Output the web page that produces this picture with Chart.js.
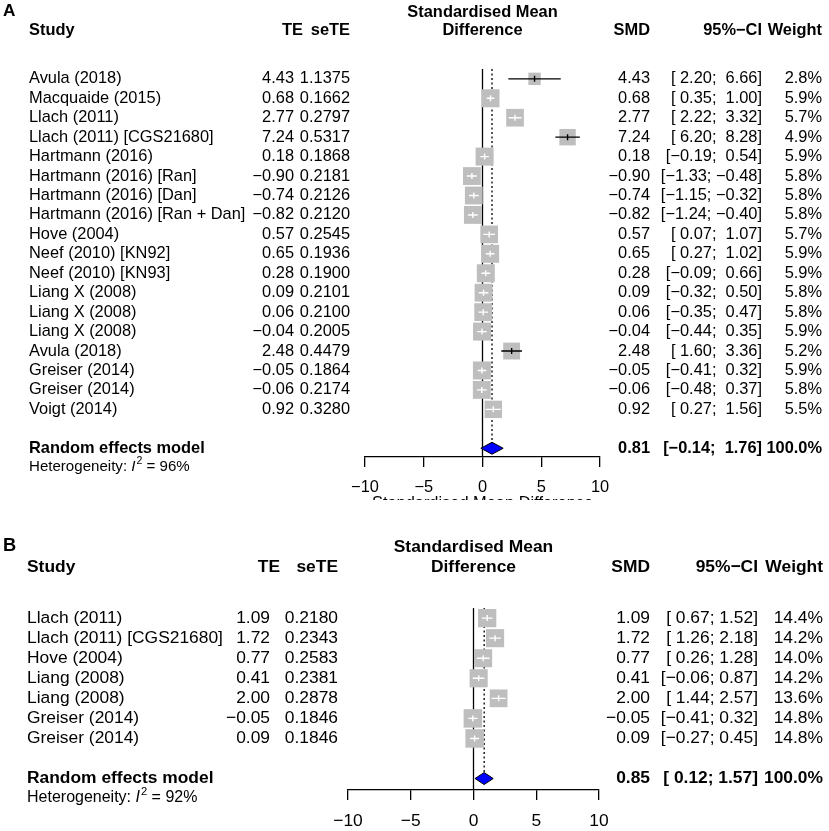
<!DOCTYPE html>
<html>
<head>
<meta charset="utf-8">
<script src="https://cdn.jsdelivr.net/npm/chart.js@4"></script>
<style>
  body { margin: 0; background: #fff; width: 829px; height: 831px; overflow: hidden; position: relative; }
  canvas { position: absolute; left: 0; background: #fff; }
  #panelA { top: 0; }
  #panelB { top: 500px; }
</style>
</head>
<body>
<canvas id="panelA" width="829" height="500"></canvas>
<canvas id="panelB" width="829" height="331"></canvas>
<script>
const MINUS = "\u2212";
const xTicks = [-10, -5, 0, 5, 10];

// panel A
const studiesA = ["Avula (2018)", "Macquaide (2015)", "Llach (2011)", "Llach (2011) [CGS21680]",
    "Hartmann (2016)", "Hartmann (2016) [Ran]", "Hartmann (2016) [Dan]", "Hartmann (2016) [Ran + Dan]",
    "Hove (2004)", "Neef (2010) [KN92]", "Neef (2010) [KN93]", "Liang X (2008)", "Liang X (2008)",
    "Liang X (2008)", "Avula (2018)", "Greiser (2014)", "Greiser (2014)", "Voigt (2014)"];
const teA = [4.43, 0.68, 2.77, 7.24, 0.18, -0.90, -0.74, -0.82, 0.57, 0.65, 0.28, 0.09, 0.06, -0.04, 2.48, -0.05, -0.06, 0.92];
const seteA = [1.1375, 0.1662, 0.2797, 0.5317, 0.1868, 0.2181, 0.2126, 0.2120, 0.2545, 0.1936, 0.1900, 0.2101, 0.2100, 0.2005, 0.4479, 0.1864, 0.2174, 0.3280];
const lowerA = [2.20, 0.35, 2.22, 6.20, -0.19, -1.33, -1.15, -1.24, 0.07, 0.27, -0.09, -0.32, -0.35, -0.44, 1.60, -0.41, -0.48, 0.27];
const upperA = [6.66, 1.00, 3.32, 8.28, 0.54, -0.48, -0.32, -0.40, 1.07, 1.02, 0.66, 0.50, 0.47, 0.35, 3.36, 0.32, 0.37, 1.56];
const weightA = [2.8, 5.9, 5.7, 4.9, 5.9, 5.8, 5.8, 5.8, 5.7, 5.9, 5.9, 5.8, 5.8, 5.9, 5.2, 5.9, 5.8, 5.5];
const summaryA = [0.81, -0.14, 1.76];   // estimate, lower, upper
const i2A = 96;

// panel B
const studiesB = ["Llach (2011)", "Llach (2011) [CGS21680]", "Hove (2004)", "Liang (2008)", "Liang (2008)",
    "Greiser (2014)", "Greiser (2014)"];
const teB = [1.09, 1.72, 0.77, 0.41, 2.00, -0.05, 0.09];
const seteB = [0.2180, 0.2343, 0.2583, 0.2381, 0.2878, 0.1846, 0.1846];
const lowerB = [0.67, 1.26, 0.26, -0.06, 1.44, -0.41, -0.27];
const upperB = [1.52, 2.18, 1.28, 0.87, 2.57, 0.32, 0.45];
const weightB = [14.4, 14.2, 14.0, 14.2, 13.6, 14.8, 14.8];
const summaryB = [0.85, 0.12, 1.57];
const i2B = 92;

const fmt = (v, d) => v.toFixed(d).replace("-", MINUS);

// R pads lower / upper bounds to a common width
function ciLabels(lo, up) {
    const ls = lo.map(v => v.toFixed(2));
    const us = up.map(v => v.toFixed(2));
    const lw = Math.max(...ls.map(s => s.length));
    const uw = Math.max(...us.map(s => s.length));
    return ls.map((s, i) => ("[" + s.padStart(lw) + "; " + us[i].padStart(uw) + "]").replace(/-/g, MINUS));
}

function makeForest(id, d, L) {
    const n = d.studies.length;
    const sumRow = n + 1;
    const yMin = -L.row0 / L.rowH;
    const yMax = yMin + L.axisY / L.rowH;
    const maxW = Math.max(...d.weight);
    const sides = d.weight.map(w => L.box * Math.sqrt(w / maxW));
    const font = (style, size) => `${style}${size || L.font}px "Liberation Sans", Arial, sans-serif`;
    const ci = ciLabels(d.lower.concat([d.summary[1]]), d.upper.concat([d.summary[2]]));

    const forestPlugin = {
        id: "forest_" + id,
        beforeDatasetsDraw(chart) {
            const { ctx, chartArea, scales: { x, y } } = chart;
            const top = y.getPixelForValue(-0.5);
            const x0 = x.getPixelForValue(0);
            const xs = x.getPixelForValue(d.summary[0]);
            ctx.save();
            ctx.strokeStyle = "#000";
            ctx.lineWidth = 1.3;
            ctx.beginPath();
            ctx.moveTo(x0, top);
            ctx.lineTo(x0, chartArea.bottom);
            ctx.stroke();
            // dotted line at the pooled estimate
            ctx.setLineDash([2, 2.5]);
            ctx.beginPath();
            ctx.moveTo(xs, top);
            ctx.lineTo(xs, y.getPixelForValue(sumRow) - L.diam);
            ctx.stroke();
            ctx.restore();
        },
        afterDatasetsDraw(chart) {
            const { ctx, scales: { x, y } } = chart;
            ctx.save();
            ctx.lineWidth = 1.4;
            for (let i = 0; i < n; i++) {
                const yp = y.getPixelForValue(i);
                const xl = x.getPixelForValue(d.lower[i]);
                const xu = x.getPixelForValue(d.upper[i]);
                const xe = x.getPixelForValue(d.te[i]);
                const inside = (xu - xl) < sides[i];
                ctx.strokeStyle = inside ? "#fff" : "#000";
                ctx.beginPath();
                ctx.moveTo(xl, yp);
                ctx.lineTo(xu, yp);
                ctx.moveTo(xe, yp - 3);
                ctx.lineTo(xe, yp + 3);
                ctx.stroke();
            }
            // diamond for the random effects model
            const ys = y.getPixelForValue(sumRow);
            ctx.beginPath();
            ctx.moveTo(x.getPixelForValue(d.summary[1]), ys);
            ctx.lineTo(x.getPixelForValue(d.summary[0]), ys - L.diam);
            ctx.lineTo(x.getPixelForValue(d.summary[2]), ys);
            ctx.lineTo(x.getPixelForValue(d.summary[0]), ys + L.diam);
            ctx.closePath();
            ctx.fillStyle = "#0000ff";
            ctx.fill();
            ctx.strokeStyle = "#000";
            ctx.lineWidth = 1;
            ctx.stroke();
            ctx.restore();
        },
        afterDraw(chart) {
            const { ctx, chartArea, scales: { y } } = chart;
            const c = L.cols;
            const txt = (s, xp, yp, align, style, size) => {
                ctx.font = font(style || "", size);
                ctx.textAlign = align;
                ctx.fillText(s, xp, yp);
            };
            ctx.save();
            ctx.fillStyle = "#000";
            ctx.textBaseline = "middle";

            txt(L.label, 3, L.labelY, "left", "bold ", L.font * 1.05);
            const midX = (chartArea.left + chartArea.right) / 2;
            txt("Standardised Mean", midX, L.head1, "center", "bold ");
            txt("Difference", midX, L.head2, "center", "bold ");
            txt("Study", c.name, L.head2, "left", "bold ");
            txt("TE", c.teHead, L.head2, "right", "bold ");
            txt("seTE", c.se, L.head2, "right", "bold ");
            txt("SMD", c.smd, L.head2, "right", "bold ");
            txt("95%" + MINUS + "CI", c.ci, L.head2, "right", "bold ");
            txt("Weight", c.w, L.head2, "right", "bold ");

            for (let i = 0; i < n; i++) {
                const yp = y.getPixelForValue(i);
                txt(d.studies[i], c.name, yp, "left");
                txt(fmt(d.te[i], 2), c.te, yp, "right");
                txt(d.sete[i].toFixed(4), c.se, yp, "right");
                txt(fmt(d.te[i], 2), c.smd, yp, "right");
                txt(ci[i], c.ci, yp, "right");
                txt(d.weight[i].toFixed(1) + "%", c.w, yp, "right");
            }

            const ys = y.getPixelForValue(sumRow);
            txt("Random effects model", c.name, ys, "left", "bold ");
            txt(fmt(d.summary[0], 2), c.smd, ys, "right", "bold ");
            txt(ci[n], c.ci, ys, "right", "bold ");
            txt("100.0%", c.w, ys, "right", "bold ");

            // Heterogeneity: I^2 = xx%
            const yh = y.getPixelForValue(sumRow + 0.95);
            const hs = L.font * 0.92;
            let xp = c.name;
            ctx.textAlign = "left";
            ctx.font = font("", hs);
            ctx.fillText("Heterogeneity: ", xp, yh);
            xp += ctx.measureText("Heterogeneity: ").width;
            ctx.font = font("italic ", hs);
            ctx.fillText("I", xp, yh);
            xp += ctx.measureText("I").width + 1;
            ctx.font = font("", hs * 0.7);
            ctx.fillText("2", xp, yh - hs * 0.38);
            xp += ctx.measureText("2").width;
            ctx.font = font("", hs);
            ctx.fillText(" = " + d.i2 + "%", xp, yh);

            if (L.xlabY) txt("Standardised Mean Difference", midX, L.xlabY, "center", "");
            ctx.restore();
        }
    };

    return new Chart(document.getElementById(id), {
        type: "scatter",
        data: {
            datasets: [{
                data: d.te.map((v, i) => ({ x: v, y: i })),
                pointStyle: "rect",
                pointRadius: sides.map(s => s / 2 * Math.SQRT2),
                pointHoverRadius: sides.map(s => s / 2 * Math.SQRT2),
                pointBackgroundColor: "#bebebe",
                pointBorderWidth: 0,
                clip: false
            }]
        },
        options: {
            responsive: false,
            animation: false,
            events: [],
            layout: { padding: { left: L.left, right: 829 - L.right, top: 0, bottom: 0 } },
            plugins: { legend: { display: false }, tooltip: { enabled: false } },
            scales: {
                x: {
                    type: "linear",
                    position: "bottom",
                    min: -10,
                    max: 10,
                    afterBuildTicks(scale) { scale.ticks = xTicks.map(v => ({ value: v })); },
                    afterFit(scale) { scale.height = L.height - L.axisY; },
                    ticks: {
                        color: "#000",
                        font: { family: "Liberation Sans", size: L.font },
                        padding: L.tickPad,
                        maxRotation: 0,
                        callback: v => String(v).replace("-", MINUS)
                    },
                    grid: { drawOnChartArea: false, drawTicks: true, tickLength: 10, color: "#000", lineWidth: 1.3 },
                    border: { display: true, color: "#000", width: 1.3 }
                },
                y: { type: "linear", reverse: true, min: yMin, max: yMax, display: false }
            }
        },
        plugins: [forestPlugin]
    });
}

makeForest("panelA",
    { studies: studiesA, te: teA, sete: seteA, lower: lowerA, upper: upperA, weight: weightA, summary: summaryA, i2: i2A },
    { height: 500, left: 365, right: 600, row0: 68, rowH: 20, axisY: 457, font: 16.4, tickPad: 11,
      box: 18, diam: 6, head1: 12, head2: 30, label: "A", labelY: 11, xlabY: 503,
      cols: { name: 29, te: 294, teHead: 303, se: 350, smd: 650, ci: 762, w: 822 } });

makeForest("panelB",
    { studies: studiesB, te: teB, sete: seteB, lower: lowerB, upper: upperB, weight: weightB, summary: summaryB, i2: i2B },
    { height: 331, left: 348, right: 599, row0: 110, rowH: 21, axisY: 290, font: 17.4, tickPad: 11,
      box: 18.5, diam: 6, head1: 47, head2: 67, label: "B", labelY: 46, xlabY: null,
      cols: { name: 27, te: 270, teHead: 280, se: 338, smd: 650, ci: 758, w: 823 } });
</script>
</body>
</html>
